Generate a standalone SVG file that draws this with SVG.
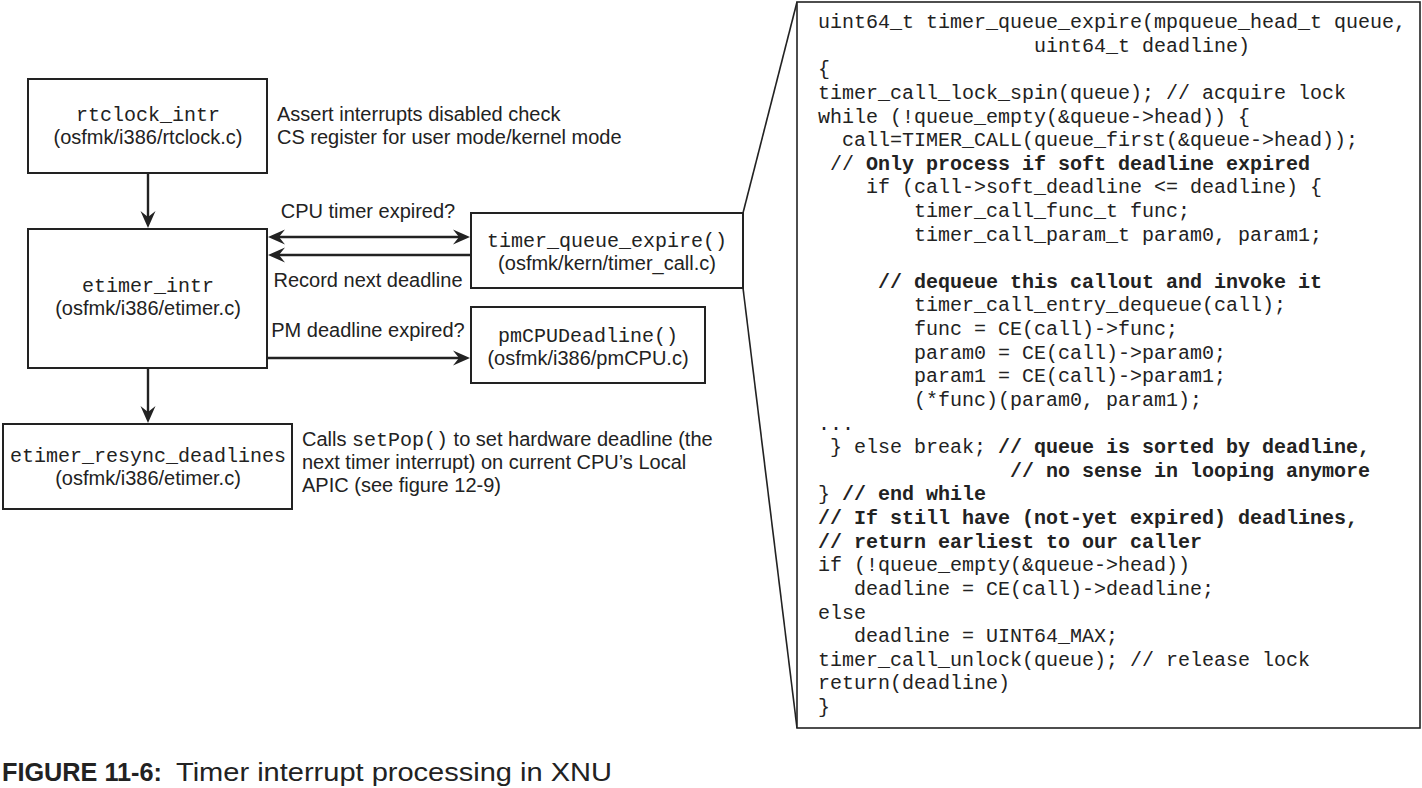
<svg xmlns="http://www.w3.org/2000/svg" width="1422" height="788" viewBox="0 0 1422 788">
<style>
.box{fill:#fff;stroke:#222;stroke-width:2}
.sans{font-family:"Liberation Sans",Arial,sans-serif;font-size:20px;fill:#222}
.mono{font-family:"Liberation Mono","Courier New",monospace;font-size:20px;fill:#222}
.code{font-family:"Liberation Mono","Courier New",monospace;font-size:20px;fill:#222;white-space:pre}
.b{font-weight:bold}
.mid{text-anchor:middle}
.edge{fill:none;stroke:#222;stroke-width:2.4}
.thin{fill:none;stroke:#222;stroke-width:1.6}
.head{fill:#222}
</style>
<defs>
<path id="ah" d="M0,0 L-17,-7.5 L-11,0 L-17,7.5 Z"/>
</defs>
<rect width="1422" height="788" fill="#fff"/>

<g id="connectors">
<line class="edge" x1="148" y1="173" x2="148" y2="220"/>
<use href="#ah" class="head" transform="translate(148,228) rotate(90)"/>
<line class="edge" x1="276" y1="237" x2="462" y2="237"/>
<use href="#ah" class="head" transform="translate(268,237) rotate(180)"/>
<use href="#ah" class="head" transform="translate(470,237)"/>
<line class="edge" x1="471" y1="255" x2="276" y2="255"/>
<use href="#ah" class="head" transform="translate(268,255) rotate(180)"/>
<line class="edge" x1="267" y1="358" x2="462" y2="358"/>
<use href="#ah" class="head" transform="translate(470,358)"/>
<line class="edge" x1="148" y1="368" x2="148" y2="415"/>
<use href="#ah" class="head" transform="translate(148,423) rotate(90)"/>
<line class="thin" x1="743" y1="213" x2="797" y2="2"/>
<line class="thin" x1="743" y1="288" x2="797" y2="728"/>
</g>

<g id="rtclock_intr">
<rect class="box" x="28" y="79" width="239" height="94"/>
<text class="mono mid" x="148" y="121">rtclock_intr</text>
<text class="sans mid" x="148" y="144">(osfmk/i386/rtclock.c)</text>
</g>
<g id="rtclock_note">
<text class="sans" x="277" y="121">Assert interrupts disabled check</text>
<text class="sans" x="277" y="144">CS register for user mode/kernel mode</text>
</g>

<g id="etimer_intr">
<rect class="box" x="28" y="229" width="239" height="139"/>
<text class="mono mid" x="148" y="292">etimer_intr</text>
<text class="sans mid" x="148" y="315">(osfmk/i386/etimer.c)</text>
</g>

<g id="edge_labels">
<text class="sans mid" x="368" y="218">CPU timer expired?</text>
<text class="sans mid" x="368" y="287">Record next deadline</text>
<text class="sans mid" x="368" y="337">PM deadline expired?</text>
</g>

<g id="timer_queue_expire">
<rect class="box" x="471" y="213" width="272" height="75"/>
<text class="mono mid" x="607" y="247">timer_queue_expire()</text>
<text class="sans mid" x="607" y="270">(osfmk/kern/timer_call.c)</text>
</g>

<g id="pmCPUDeadline">
<rect class="box" x="471" y="307" width="234" height="76"/>
<text class="mono mid" x="588" y="342">pmCPUDeadline()</text>
<text class="sans mid" x="588" y="365">(osfmk/i386/pmCPU.c)</text>
</g>

<g id="etimer_resync_deadlines">
<rect class="box" x="3" y="424" width="289" height="85"/>
<text class="mono mid" x="148" y="462">etimer_resync_deadlines</text>
<text class="sans mid" x="148" y="485">(osfmk/i386/etimer.c)</text>
</g>
<g id="resync_note">
<text class="sans" x="302" y="446">Calls <tspan class="mono">setPop()</tspan> to set hardware deadline (the</text>
<text class="sans" x="302" y="469">next timer interrupt) on current CPU’s Local</text>
<text class="sans" x="302" y="492">APIC (see figure 12-9)</text>
</g>

<g id="code_panel">
<rect class="box" x="797" y="2" width="623" height="726" style="stroke-width:1.6"/>
<text class="code" xml:space="preserve" x="818" y="28">uint64_t timer_queue_expire(mpqueue_head_t queue,</text>
<text class="code" xml:space="preserve" x="1034" y="51.6">uint64_t deadline)</text>
<text class="code" xml:space="preserve" x="818" y="75.2">{</text>
<text class="code" xml:space="preserve" x="818" y="98.9">timer_call_lock_spin(queue); // acquire lock</text>
<text class="code" xml:space="preserve" x="818" y="122.5">while (!queue_empty(&amp;queue-&gt;head)) {</text>
<text class="code" xml:space="preserve" x="842" y="146.1">call=TIMER_CALL(queue_first(&amp;queue-&gt;head));</text>
<text class="code" xml:space="preserve" x="830" y="169.7">// <tspan class="b">Only process if soft deadline expired</tspan></text>
<text class="code" xml:space="preserve" x="866" y="193.3">if (call-&gt;soft_deadline &lt;= deadline) {</text>
<text class="code" xml:space="preserve" x="914" y="217">timer_call_func_t func;</text>
<text class="code" xml:space="preserve" x="914" y="240.6">timer_call_param_t param0, param1;</text>
<text class="code b" xml:space="preserve" x="878" y="287.8">// dequeue this callout and invoke it</text>
<text class="code" xml:space="preserve" x="914" y="311.4">timer_call_entry_dequeue(call);</text>
<text class="code" xml:space="preserve" x="914" y="335.1">func = CE(call)-&gt;func;</text>
<text class="code" xml:space="preserve" x="914" y="358.7">param0 = CE(call)-&gt;param0;</text>
<text class="code" xml:space="preserve" x="914" y="382.3">param1 = CE(call)-&gt;param1;</text>
<text class="code" xml:space="preserve" x="914" y="405.9">(*func)(param0, param1);</text>
<text class="code" xml:space="preserve" x="818" y="429.5">...</text>
<text class="code" xml:space="preserve" x="830" y="453.2">} else break; <tspan class="b">// queue is sorted by deadline,</tspan></text>
<text class="code b" xml:space="preserve" x="1010" y="476.8">// no sense in looping anymore</text>
<text class="code" xml:space="preserve" x="818" y="500.4">} <tspan class="b">// end while</tspan></text>
<text class="code b" xml:space="preserve" x="818" y="524">// If still have (not-yet expired) deadlines,</text>
<text class="code b" xml:space="preserve" x="818" y="547.6">// return earliest to our caller</text>
<text class="code" xml:space="preserve" x="818" y="571.2">if (!queue_empty(&amp;queue-&gt;head))</text>
<text class="code" xml:space="preserve" x="854" y="594.9">deadline = CE(call)-&gt;deadline;</text>
<text class="code" xml:space="preserve" x="818" y="618.5">else</text>
<text class="code" xml:space="preserve" x="854" y="642.1">deadline = UINT64_MAX;</text>
<text class="code" xml:space="preserve" x="818" y="665.7">timer_call_unlock(queue); // release lock</text>
<text class="code" xml:space="preserve" x="818" y="689.3">return(deadline)</text>
<text class="code" xml:space="preserve" x="818" y="713">}</text>
</g>

<g id="caption">
<text x="2" y="781" style="font-family:'Liberation Sans',Arial,sans-serif;font-size:26px;fill:#222"><tspan font-weight="bold" textLength="160" lengthAdjust="spacingAndGlyphs">FIGURE 11-6:</tspan><tspan x="176" textLength="436" lengthAdjust="spacingAndGlyphs">Timer interrupt processing in XNU</tspan></text>
</g>
</svg>
